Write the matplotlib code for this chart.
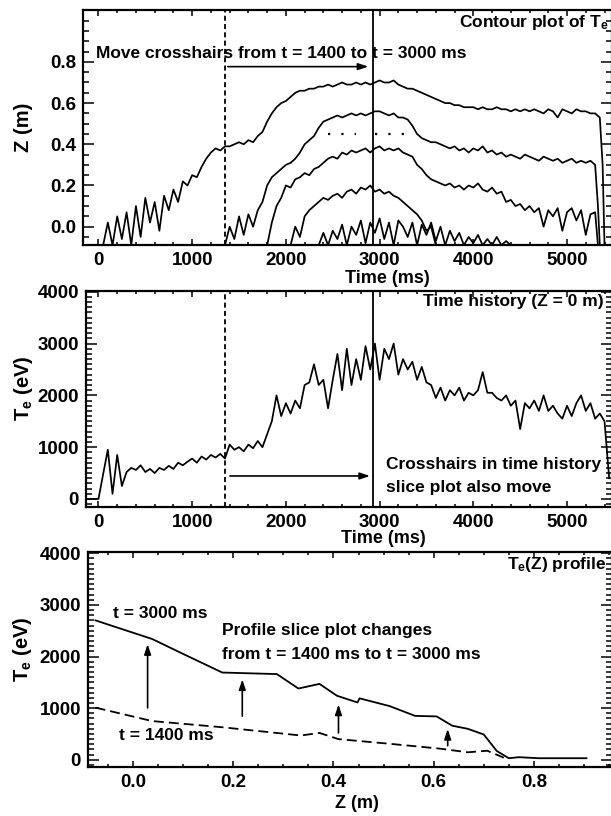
import numpy as np
import matplotlib
matplotlib.use('Agg')
import matplotlib.pyplot as plt
from matplotlib import font_manager
from matplotlib.ticker import FixedLocator, MultipleLocator, FormatStrFormatter

# fonts: bold, condensed Helvetica-like look if a narrow face is installed
installed = {f.name for f in font_manager.fontManager.ttflist}
if 'Liberation Sans Narrow' in installed:
    fam, fs = 'Liberation Sans Narrow', 15
else:
    fam, fs = 'Liberation Sans', 12.5
plt.rcParams['font.family'] = [fam, 'DejaVu Sans']
plt.rcParams['font.weight'] = 'bold'
plt.rcParams['mathtext.fontset'] = 'custom'
plt.rcParams['mathtext.rm'] = fam + ':bold'
plt.rcParams['mathtext.it'] = fam + ':bold'
plt.rcParams['mathtext.bf'] = fam + ':bold'

# ---- top panel: contour lines of Te (Z in m), sampled every 50 ms ----
z_outer = [-0.09, 0.02, -0.09, 0.05, -0.06, 0.07, -0.09, 0.10, -0.05, 0.14,
           0.02, 0.12, -0.02, 0.15, 0.08, 0.18, 0.12, 0.22, 0.20, 0.25,
           0.24, 0.29, 0.33, 0.36, 0.38, 0.37, 0.39, 0.39, 0.40, 0.41,
           0.40, 0.42, 0.41, 0.44, 0.46, 0.51, 0.55, 0.58, 0.60, 0.61,
           0.63, 0.65, 0.66, 0.66, 0.67, 0.67, 0.68, 0.68, 0.69, 0.68,
           0.69, 0.70, 0.69, 0.69, 0.70, 0.69, 0.70, 0.69, 0.70, 0.71,
           0.70, 0.70, 0.71, 0.69, 0.68, 0.67, 0.67, 0.66, 0.65, 0.64,
           0.63, 0.62, 0.61, 0.60, 0.60, 0.59, 0.59, 0.58, 0.58, 0.58,
           0.57, 0.58, 0.57, 0.57, 0.58, 0.57, 0.57, 0.56, 0.57, 0.56,
           0.57, 0.56, 0.57, 0.56, 0.55, 0.57, 0.56, 0.53, 0.57, 0.56,
           0.55, 0.57, 0.56, 0.56, 0.55, 0.55, 0.53]
t_outer_start = 50
t_outer_end = [5380, 5400]
z_outer_end = [0.30, -0.09]

z_second = [-0.09, 0.00, -0.06, 0.05, -0.04, 0.06, 0.00, 0.08, 0.12, 0.20,
            0.24, 0.26, 0.28, 0.30, 0.31, 0.33, 0.36, 0.40, 0.42, 0.44,
            0.48, 0.51, 0.52, 0.53, 0.54, 0.53, 0.54, 0.55, 0.54, 0.55,
            0.54, 0.55, 0.56, 0.56, 0.55, 0.54, 0.55, 0.53, 0.53, 0.52,
            0.49, 0.45, 0.43, 0.42, 0.41, 0.41, 0.40, 0.39, 0.38, 0.39,
            0.37, 0.38, 0.36, 0.38, 0.37, 0.39, 0.36, 0.37, 0.35, 0.36,
            0.34, 0.35, 0.34, 0.33, 0.35, 0.34, 0.33, 0.32, 0.34, 0.33,
            0.32, 0.33, 0.31, 0.32, 0.33, 0.31, 0.32, 0.31, 0.32, 0.30]
t_second_start = 1350
t_second_end = [5330, 5350]
z_second_end = [0.10, -0.09]

z_third = [-0.09, 0.02, 0.10, 0.14, 0.20, 0.19, 0.23, 0.24, 0.26, 0.25,
           0.28, 0.29, 0.31, 0.33, 0.34, 0.33, 0.36, 0.35, 0.37, 0.36,
           0.37, 0.38, 0.36, 0.38, 0.39, 0.37, 0.38, 0.37, 0.38, 0.36,
           0.35, 0.34, 0.30, 0.28, 0.25, 0.23, 0.22, 0.21, 0.20, 0.21,
           0.19, 0.20, 0.18, 0.20, 0.19, 0.21, 0.18, 0.17, 0.19, 0.16,
           0.17, 0.12, 0.13, 0.10, 0.11, 0.08, 0.10, 0.07, 0.09, 0.00,
           0.08, 0.05, 0.09, -0.02, 0.07, 0.09, 0.03, 0.08, -0.04, 0.06,
           0.07]
t_third_start = 1800
t_third_end = [5330]
z_third_end = [-0.09]

z_fourth = [-0.09, 0.00, -0.05, 0.05, 0.08, 0.10, 0.12, 0.14, 0.13, 0.15,
            0.16, 0.14, 0.17, 0.18, 0.16, 0.19, 0.18, 0.20, 0.17, 0.18,
            0.16, 0.17, 0.15, 0.14, 0.12, 0.10, 0.08, 0.06, 0.03, -0.02,
            0.00, -0.09]
t_fourth_start = 2050

z_fifth = [-0.09, -0.03, -0.09, -0.02, -0.06, 0.01, -0.09, 0.00, -0.04, 0.03,
           -0.08, 0.02, -0.03, 0.04, -0.06, 0.02, -0.09, 0.03, 0.00, -0.05,
           0.02, -0.09, 0.01, -0.04, 0.02, -0.07, 0.00, -0.09, -0.02, -0.07,
           -0.03, -0.09, -0.05, -0.08, -0.04, -0.09, -0.06, -0.09, -0.05, -0.09,
           -0.07, -0.09]
t_fifth_start = 2350

# dotted contour fragments at Z = 0.45 m
dot_segments = [(2450, 2750), (2950, 3300)]
dot_level = 0.45

# ---- middle panel: Te(t) at Z = 0, every 50 ms from t = 0 ----
te_hist = [0, 480, 950, 100, 850, 250, 520, 600, 560, 650,
           520, 580, 500, 600, 560, 640, 580, 700, 650, 720,
           780, 700, 820, 760, 850, 800, 870, 780, 1050, 950,
           1000, 920, 1050, 980, 1120, 1000, 1250, 1500, 2000, 1600,
           1850, 1650, 1900, 1750, 2200, 2250, 2600, 2200, 2300, 1750,
           2300, 2800, 2100, 2900, 2200, 2700, 2300, 2950, 2500, 3000,
           2300, 2900, 2700, 3000, 2400, 2700, 2500, 2650, 2300, 2550,
           2250, 2200, 1950, 2150, 1900, 2100, 2000, 2150, 1900, 2050,
           2000, 2100, 2450, 2050, 2050, 1950, 1900, 2000, 1800, 1900,
           1350, 1850, 1750, 1900, 1700, 2000, 1700, 1800, 1650, 1550,
           1800, 1600, 1850, 2000, 1700, 1850, 1550, 1650, 1500, 400]
t_hist_start = 0

t_slice1 = 1350   # dashed crosshair (t = 1400 ms)
t_slice2 = 2930   # solid crosshair (t = 3000 ms)

# ---- bottom panel: Te(Z) profiles ----
z_prof_3000 = [-0.075, 0.038, 0.10, 0.178, 0.287, 0.33, 0.372, 0.407, 0.448, 0.452,
               0.512, 0.563, 0.606, 0.637, 0.668, 0.70, 0.726, 0.75, 0.77, 0.81, 0.905]
te_prof_3000 = [2700, 2340, 2050, 1690, 1660, 1380, 1470, 1240, 1110, 1190,
                1040, 850, 840, 660, 600, 490, 170, 30, 50, 30, 30]
z_prof_1400 = [-0.075, 0.038, 0.178, 0.335, 0.372, 0.41, 0.512, 0.613, 0.668, 0.707, 0.74]
te_prof_1400 = [1010, 750, 630, 470, 520, 400, 310, 215, 145, 175, 40]

arrow_z = [0.029, 0.218, 0.41, 0.628]
arrow_from = [1006, 844, 520, 273]
arrow_to = [2240, 1558, 1071, 597]


def times(start, vals):
    return start + 50 * np.arange(len(vals))


fig = plt.figure(figsize=(6.11, 8.16), dpi=100)
W, H = 611, 816
ax1 = fig.add_axes([83 / W, 1 - 245 / H, 529 / W, 235 / H])
ax2 = fig.add_axes([86 / W, 1 - 507 / H, 526 / W, 216 / H])
ax3 = fig.add_axes([88 / W, 1 - 767 / H, 524 / W, 215 / H])

lw = 1.25
for ax in (ax1, ax2, ax3):
    for s in ax.spines.values():
        s.set_linewidth(1.6)
    ax.tick_params(which='both', direction='in', top=True, right=True,
                   labelsize=fs + 1, pad=5, width=1.1)
    ax.tick_params(axis='y', which='major', length=8)
    ax.tick_params(axis='y', which='minor', length=4.5)
    ax.tick_params(axis='x', which='major', length=4)
    ax.tick_params(axis='x', which='minor', length=2)

arrow_kw = dict(arrowstyle='-|>,head_length=0.6,head_width=0.2',
                color='k', lw=1.2, shrinkA=0, shrinkB=0)

# top panel
kw = dict(color='k', lw=lw)
ax1.plot(np.r_[times(t_outer_start, z_outer), t_outer_end], np.r_[z_outer, z_outer_end], **kw)
ax1.plot(np.r_[times(t_second_start, z_second), t_second_end], np.r_[z_second, z_second_end], **kw)
ax1.plot(np.r_[times(t_third_start, z_third), t_third_end], np.r_[z_third, z_third_end], **kw)
ax1.plot(times(t_fourth_start, z_fourth), z_fourth, **kw)
ax1.plot(times(t_fifth_start, z_fifth), z_fifth, **kw)
for a, b in dot_segments:
    ax1.plot([a, b], [dot_level, dot_level], color='k', lw=1.6, linestyle=(0, (1, 5)))
ax1.axvline(t_slice1, color='k', lw=1.3, linestyle=(0, (2.8, 1.8)))
ax1.axvline(t_slice2, color='k', lw=1.3)
ax1.set_xlim(-165, 5480)
ax1.set_ylim(-0.089, 1.052)
ax1.xaxis.set_major_locator(MultipleLocator(1000))
ax1.xaxis.set_minor_locator(MultipleLocator(200))
ax1.yaxis.set_major_locator(FixedLocator([0.0, 0.2, 0.4, 0.6, 0.8]))
ax1.yaxis.set_minor_locator(MultipleLocator(0.05))
ax1.yaxis.set_major_formatter(FormatStrFormatter('%.1f'))
ax1.set_xlabel('Time (ms)', fontsize=fs + 0.5, fontweight='bold')
ax1.set_ylabel('Z (m)', fontsize=fs + 2, fontweight='bold')
ax1.xaxis.set_label_coords(0.575, -0.105)
ax1.yaxis.set_label_coords(-0.095, 0.5)
ax1.text(-25, 0.843, 'Move crosshairs from t = 1400 to t = 3000 ms',
         fontsize=fs, ha='left', va='center')
ax1.text(5438, 0.99, r'Contour plot of T$_{\rm e}$', fontsize=fs, ha='right', va='center')
ax1.annotate('', xy=(2880, 0.777), xytext=(1380, 0.777), arrowprops=arrow_kw)

# middle panel
ax2.plot(np.r_[-140, times(t_hist_start, te_hist)], np.r_[0, te_hist], color='k', lw=lw)
ax2.axvline(t_slice1, color='k', lw=1.3, linestyle=(0, (2.8, 1.8)))
ax2.axvline(t_slice2, color='k', lw=1.3)
ax2.set_xlim(-133, 5480)
ax2.set_ylim(-155, 4015)
ax2.xaxis.set_major_locator(MultipleLocator(1000))
ax2.xaxis.set_minor_locator(MultipleLocator(200))
ax2.yaxis.set_major_locator(MultipleLocator(1000))
ax2.yaxis.set_minor_locator(MultipleLocator(100))
ax2.set_xlabel('Time (ms)', fontsize=fs + 0.5, fontweight='bold')
ax2.set_ylabel(r'T$_{\rm e}$ (eV)', fontsize=fs + 2, fontweight='bold')
ax2.xaxis.set_label_coords(0.565, -0.105)
ax2.yaxis.set_label_coords(-0.097, 0.55)
ax2.text(5395, 3810, 'Time history (Z = 0 m)', fontsize=fs, ha='right', va='center')
ax2.text(3066, 673, 'Crosshairs in time history', fontsize=fs, ha='left', va='center')
ax2.text(3066, 215, 'slice plot also move', fontsize=fs, ha='left', va='center')
ax2.annotate('', xy=(2898, 444), xytext=(1403, 444), arrowprops=arrow_kw)

# bottom panel
ax3.plot(z_prof_3000, te_prof_3000, color='k', lw=1.3)
ax3.plot(z_prof_1400, te_prof_1400, color='k', lw=1.3, linestyle=(0, (5.5, 2.8)))
for z, a, b in zip(arrow_z, arrow_from, arrow_to):
    ax3.annotate('', xy=(z, b), xytext=(z, a), arrowprops=arrow_kw)
ax3.set_xlim(-0.09, 0.956)
ax3.set_ylim(-140, 4025)
ax3.xaxis.set_major_locator(MultipleLocator(0.2))
ax3.xaxis.set_minor_locator(MultipleLocator(0.05))
ax3.xaxis.set_major_formatter(FormatStrFormatter('%.1f'))
ax3.yaxis.set_major_locator(MultipleLocator(1000))
ax3.yaxis.set_minor_locator(MultipleLocator(100))
ax3.set_xlabel('Z (m)', fontsize=fs + 0.5, fontweight='bold')
ax3.set_ylabel(r'T$_{\rm e}$ (eV)', fontsize=fs + 2, fontweight='bold')
ax3.xaxis.set_label_coords(0.513, -0.13)
ax3.yaxis.set_label_coords(-0.103, 0.547)
ax3.text(0.944, 3780, r'T$_{\rm e}$(Z) profile', fontsize=fs, ha='right', va='center')
ax3.text(-0.04, 2825, 't = 3000 ms', fontsize=fs, ha='left', va='center')
ax3.text(0.178, 2500, 'Profile slice plot changes', fontsize=fs, ha='left', va='center')
ax3.text(0.178, 2045, 'from t = 1400 ms to t = 3000 ms', fontsize=fs, ha='left', va='center')
ax3.text(-0.028, 468, 't = 1400 ms', fontsize=fs, ha='left', va='center')

fig.savefig('out.png', dpi=100)
